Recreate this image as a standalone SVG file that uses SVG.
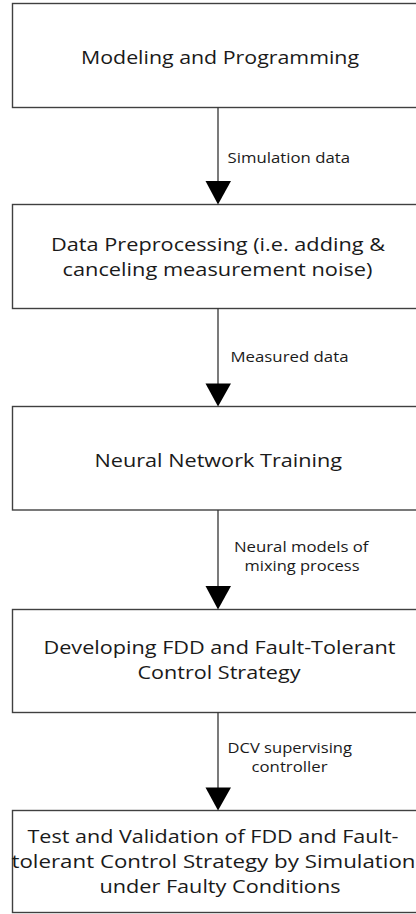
<svg xmlns="http://www.w3.org/2000/svg" width="416" height="914" viewBox="0 0 416 914">
  <style>
    .box { fill: #ffffff; stroke: #404040; stroke-width: 1.4; }
    .title { font-family: "Open Sans", "Liberation Sans", sans-serif; font-size: 18px; fill: #1a1a1a; }
    .label { font-family: "Open Sans", "Liberation Sans", sans-serif; font-size: 14px; fill: #1a1a1a; }
    .wire { stroke: #333333; stroke-width: 1.3; fill: none; }
    .head { fill: #000000; }
  </style>
  <rect x="0" y="0" width="416" height="914" fill="#ffffff"/>

  <!-- process steps -->
  <g id="modeling">
    <rect class="box" x="12.5" y="3.5" width="420" height="104"/>
    <text class="title" x="81" y="63.5" textLength="278" lengthAdjust="spacingAndGlyphs">Modeling and Programming</text>
  </g>
  <g id="preprocessing">
    <rect class="box" x="12.5" y="204.5" width="420" height="104"/>
    <text class="title" x="51" y="251" textLength="334" lengthAdjust="spacingAndGlyphs">Data Preprocessing (i.e. adding &amp;</text>
    <text class="title" x="62.5" y="276" textLength="310" lengthAdjust="spacingAndGlyphs">canceling measurement noise)</text>
  </g>
  <g id="training">
    <rect class="box" x="12.5" y="406.5" width="420" height="103.5"/>
    <text class="title" x="94.5" y="466.5" textLength="247.5" lengthAdjust="spacingAndGlyphs">Neural Network Training</text>
  </g>
  <g id="fdd-strategy">
    <rect class="box" x="12.5" y="609.5" width="420" height="103"/>
    <text class="title" x="43.5" y="654" textLength="352" lengthAdjust="spacingAndGlyphs">Developing FDD and Fault-Tolerant</text>
    <text class="title" x="137.5" y="678.5" textLength="163" lengthAdjust="spacingAndGlyphs">Control Strategy</text>
  </g>
  <g id="validation">
    <rect class="box" x="12.5" y="810.5" width="420" height="102"/>
    <text class="title" x="27.5" y="842.5" textLength="371" lengthAdjust="spacingAndGlyphs">Test and Validation of FDD and Fault-</text>
    <text class="title" x="11.5" y="867.5" textLength="404" lengthAdjust="spacingAndGlyphs">tolerant Control Strategy by Simulation</text>
    <text class="title" x="99.5" y="892.5" textLength="241" lengthAdjust="spacingAndGlyphs">under Faulty Conditions</text>
  </g>

  <!-- connectors -->
  <g id="connectors">
    <line class="wire" x1="218" y1="107.5" x2="218" y2="183"/>
    <polygon class="head" points="205.5,181 231,181 218,204.5"/>
    <text class="label" x="227.5" y="163" textLength="122.5" lengthAdjust="spacingAndGlyphs">Simulation data</text>

    <line class="wire" x1="218" y1="308.5" x2="218" y2="385"/>
    <polygon class="head" points="205.5,383.5 231,383.5 218,406.5"/>
    <text class="label" x="230.5" y="362" textLength="118" lengthAdjust="spacingAndGlyphs">Measured data</text>

    <line class="wire" x1="218" y1="510" x2="218" y2="588"/>
    <polygon class="head" points="205.5,586 231,586 218,609.5"/>
    <text class="label" x="234" y="552" textLength="134.5" lengthAdjust="spacingAndGlyphs">Neural models of</text>
    <text class="label" x="244.5" y="571" textLength="115" lengthAdjust="spacingAndGlyphs">mixing process</text>

    <line class="wire" x1="218" y1="712.5" x2="218" y2="789"/>
    <polygon class="head" points="205.5,787.5 231,787.5 218,810.5"/>
    <text class="label" x="227.5" y="753" textLength="124.5" lengthAdjust="spacingAndGlyphs">DCV supervising</text>
    <text class="label" x="251.5" y="772" textLength="76" lengthAdjust="spacingAndGlyphs">controller</text>
  </g>
</svg>
